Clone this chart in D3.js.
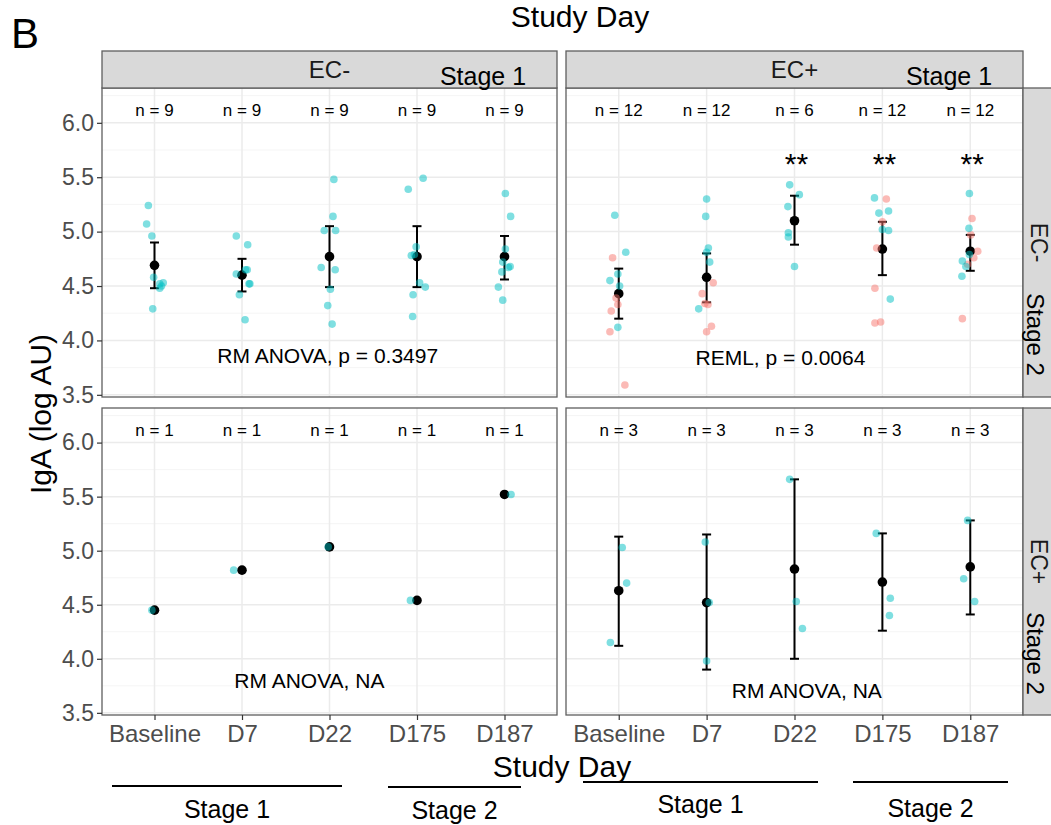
<!DOCTYPE html>
<html>
<head>
<meta charset="utf-8">
<script src="https://cdn.jsdelivr.net/npm/d3@7"></script>
<style>
  body { margin: 0; background: #fff; }
  svg { display: block; }
  text { font-family: "Liberation Sans", Arial, Helvetica, sans-serif; }
</style>
</head>
<body>
<svg id="chart" width="1051" height="825"></svg>
<script>
// ---- categories and axis ticks ----
const categories = ["Baseline", "D7", "D22", "D175", "D187"];
const yTicks = [3.5, 4.0, 4.5, 5.0, 5.5, 6.0];
const yMinorTicks = [3.75, 4.25, 4.75, 5.25, 5.75, 6.25];
const colStrips = ["EC-", "EC+"];
const rowStrips = ["EC-", "EC+"];

// ---- EC- (stage 1) / EC- (stage 2) ----
const negNegA = [
  [5.24, 5.07, 4.96, 4.58, 4.53, 4.52, 4.50, 4.48, 4.29],
  [4.96, 4.88, 4.65, 4.65, 4.61, 4.52, 4.52, 4.42, 4.19],
  [5.48, 5.14, 5.01, 5.01, 4.67, 4.65, 4.47, 4.32, 4.15],
  [5.49, 5.39, 4.86, 4.79, 4.78, 4.53, 4.49, 4.42, 4.22],
  [5.35, 5.14, 4.84, 4.72, 4.68, 4.67, 4.63, 4.49, 4.37]
];
const negNegAJitter = [
  [-0.07, -0.09, -0.03, -0.01, 0.10, 0.06, 0.08, 0.06, -0.02],
  [-0.065, 0.065, 0.06, 0.04, -0.065, 0.08, 0.09, -0.03, 0.035],
  [0.05, 0.04, -0.06, 0.07, -0.095, 0.065, 0.01, -0.02, 0.03],
  [0.07, -0.10, -0.01, -0.03, -0.065, 0.03, 0.095, -0.045, -0.05],
  [0.01, 0.07, 0.01, -0.02, 0.065, 0.045, -0.03, -0.07, -0.02]
];
const negNegMean = [4.69, 4.60, 4.77, 4.77, 4.77];
const negNegLow  = [4.48, 4.45, 4.49, 4.49, 4.56];
const negNegHigh = [4.90, 4.75, 5.05, 5.05, 4.96];
const negNegN = [9, 9, 9, 9, 9];

// ---- EC+ (stage 1) / EC- (stage 2) ----
const posNegA = [
  [5.15, 4.81, 4.61, 4.55, 4.50, 4.12],
  [5.30, 5.14, 4.85, 4.81, 4.72, 4.29],
  [5.43, 5.34, 5.23, 4.99, 4.95, 4.68],
  [5.31, 5.19, 5.17, 5.02, 5.01, 4.38],
  [5.35, 5.03, 4.79, 4.73, 4.68, 4.59]
];
const posNegAJitter = [
  [-0.045, 0.08, -0.01, -0.10, 0.01, -0.01],
  [0, -0.01, 0.02, 0, 0.035, -0.09],
  [-0.055, 0.055, -0.075, -0.07, -0.07, 0],
  [-0.09, 0.07, -0.04, 0, 0.07, 0.09],
  [-0.01, -0.015, -0.01, -0.09, -0.05, -0.095]
];
const posNegB = [
  [4.76, 4.39, 4.33, 4.27, 4.08, 3.59],
  [4.53, 4.43, 4.34, 4.33, 4.13, 4.08],
  [],
  [5.30, 5.09, 4.85, 4.48, 4.17, 4.16],
  [5.12, 4.97, 4.82, 4.76, 4.70, 4.20]
];
const posNegBJitter = [
  [-0.07, -0.03, -0.01, -0.085, -0.10, 0.07],
  [0.075, -0.05, -0.02, 0.015, 0.055, 0],
  [],
  [0.045, 0, -0.065, -0.085, -0.02, -0.085],
  [0.02, 0.005, 0.085, 0.04, -0.03, -0.09]
];
const posNegMean = [4.43, 4.58, 5.10, 4.84, 4.82];
const posNegLow  = [4.20, 4.35, 4.88, 4.60, 4.64];
const posNegHigh = [4.66, 4.80, 5.33, 5.09, 4.97];
const posNegN = [12, 12, 6, 12, 12];
const posNegStars = ["", "", "**", "**", "**"];

// ---- EC- (stage 1) / EC+ (stage 2) ----
const negPosA = [[4.45], [4.82], [5.035], [4.54], [5.52]];
const negPosAJitter = [[-0.03], [-0.095], [-0.015], [-0.075], [0.075]];
const negPosMean = [4.45, 4.82, 5.035, 4.54, 5.52];
const negPosN = [1, 1, 1, 1, 1];

// ---- EC+ (stage 1) / EC+ (stage 2) ----
const posPosA = [
  [5.03, 4.70, 4.15],
  [5.08, 4.52, 3.98],
  [5.66, 4.53, 4.28],
  [5.16, 4.56, 4.40],
  [5.28, 4.74, 4.53]
];
const posPosAJitter = [
  [0.04, 0.09, -0.095],
  [-0.015, 0.03, 0],
  [-0.055, 0.02, 0.09],
  [-0.07, 0.09, 0.08],
  [-0.03, -0.075, 0.05]
];
const posPosMean = [4.63, 4.52, 4.83, 4.71, 4.85];
const posPosLow  = [4.12, 3.90, 4.00, 4.26, 4.41];
const posPosHigh = [5.13, 5.15, 5.66, 5.16, 5.28];
const posPosN = [3, 3, 3, 3, 3];

// statistical test annotations: [text, x position in category units, y value]
const statLabels = [
  ["RM ANOVA, p = 0.3497", 1.98, 3.79],
  ["REML, p = 0.0064", 1.84, 3.775],
  ["RM ANOVA, NA", 1.77, 3.727],
  ["RM ANOVA, NA", 2.14, 3.635]
];

// ---- layout ----
const svg = d3.select("#chart");
const colX = [[102, 557], [566, 1023]];
const rowY = [[88, 397], [408, 715]];
const yDomain = [3.48, 6.32];
const colA = "#00BFC4", colB = "#F8766D";
const gridMajor = "#EBEBEB", gridMinor = "#F3F3F3";
const borderCol = "#5f5f5f";

function pack(values, jitter) {
  const out = [];
  values.forEach((vals, i) => vals.forEach((v, k) => out.push({ day: categories[i], value: v, jitter: jitter[i][k] })));
  return out;
}

const panels = [
  { col: 0, row: 0, a: pack(negNegA, negNegAJitter), b: [], mean: negNegMean, low: negNegLow, high: negNegHigh, n: negNegN, stars: null, stat: statLabels[0] },
  { col: 1, row: 0, a: pack(posNegA, posNegAJitter), b: pack(posNegB, posNegBJitter), mean: posNegMean, low: posNegLow, high: posNegHigh, n: posNegN, stars: posNegStars, stat: statLabels[1] },
  { col: 0, row: 1, a: pack(negPosA, negPosAJitter), b: [], mean: negPosMean, low: null, high: null, n: negPosN, stars: null, stat: statLabels[2] },
  { col: 1, row: 1, a: pack(posPosA, posPosAJitter), b: [], mean: posPosMean, low: posPosLow, high: posPosHigh, n: posPosN, stars: null, stat: statLabels[3] }
];

panels.forEach(p => {
  const [x0, x1] = colX[p.col];
  const [y0, y1] = rowY[p.row];
  const x = d3.scalePoint().domain(categories).range([x0, x1]).padding(0.6);
  const y = d3.scaleLinear().domain(yDomain).range([y1, y0]);
  const step = x.step();
  const g = svg.append("g");

  g.append("rect").attr("x", x0).attr("y", y0).attr("width", x1 - x0).attr("height", y1 - y0).attr("fill", "#fff");

  // grid
  g.selectAll(".gmin").data(yMinorTicks).join("line")
    .attr("x1", x0).attr("x2", x1).attr("y1", d => y(d)).attr("y2", d => y(d))
    .attr("stroke", gridMinor).attr("stroke-width", 0.8);
  g.selectAll(".gmaj").data(yTicks).join("line")
    .attr("x1", x0).attr("x2", x1).attr("y1", d => y(d)).attr("y2", d => y(d))
    .attr("stroke", gridMajor).attr("stroke-width", 1.5);
  g.selectAll(".gx").data(categories).join("line")
    .attr("x1", d => x(d)).attr("x2", d => x(d)).attr("y1", y0).attr("y2", y1)
    .attr("stroke", gridMajor).attr("stroke-width", 1.5);

  // error bars
  if (p.low) {
    categories.forEach((c, i) => {
      const cx = x(c);
      g.append("line").attr("x1", cx).attr("x2", cx).attr("y1", y(p.low[i])).attr("y2", y(p.high[i]))
        .attr("stroke", "#000").attr("stroke-width", 2);
      [p.low[i], p.high[i]].forEach(v => {
        g.append("line").attr("x1", cx - 4.5).attr("x2", cx + 4.5).attr("y1", y(v)).attr("y2", y(v))
          .attr("stroke", "#000").attr("stroke-width", 2);
      });
    });
  }

  // group means
  g.selectAll(".mean").data(p.mean).join("circle")
    .attr("cx", (d, i) => x(categories[i])).attr("cy", d => y(d)).attr("r", 4.8).attr("fill", "#000");

  // individual observations
  g.selectAll(".ptb").data(p.b).join("circle")
    .attr("cx", d => x(d.day) + d.jitter * step).attr("cy", d => y(d.value)).attr("r", 3.8)
    .attr("fill", colB).attr("fill-opacity", 0.5);
  g.selectAll(".pta").data(p.a).join("circle")
    .attr("cx", d => x(d.day) + d.jitter * step).attr("cy", d => y(d.value)).attr("r", 3.8)
    .attr("fill", colA).attr("fill-opacity", 0.5);

  // sample sizes
  g.selectAll(".nlab").data(p.n).join("text")
    .attr("x", (d, i) => x(categories[i])).attr("y", y(6.06))
    .attr("text-anchor", "middle").attr("font-size", 17).attr("fill", "#000")
    .text(d => "n = " + d);

  // significance stars
  if (p.stars) {
    g.selectAll(".star").data(p.stars).join("text")
      .attr("x", (d, i) => x(categories[i]) + 2).attr("y", y(5.53))
      .attr("text-anchor", "middle").attr("font-size", 30).attr("fill", "#000")
      .text(d => d);
  }

  // test annotation
  g.append("text").attr("x", x(categories[0]) + p.stat[1] * step).attr("y", y(p.stat[2]))
    .attr("text-anchor", "middle").attr("font-size", 21).attr("fill", "#000").text(p.stat[0]);

  // border
  g.append("rect").attr("x", x0).attr("y", y0).attr("width", x1 - x0).attr("height", y1 - y0)
    .attr("fill", "none").attr("stroke", borderCol).attr("stroke-width", 1.3);

  // y axis on left column
  if (p.col === 0) {
    const ax = g.append("g").attr("transform", `translate(${x0},0)`)
      .call(d3.axisLeft(y).tickValues(yTicks).tickFormat(d3.format(".1f")).tickSize(5).tickPadding(3));
    ax.select(".domain").remove();
    ax.selectAll(".tick line").attr("stroke", "#333").attr("stroke-width", 1.2);
    ax.selectAll(".tick text").attr("font-size", 23).attr("fill", "#4D4D4D")
      .attr("font-family", "'Liberation Sans', Arial, sans-serif");
  }
  // x axis on bottom row
  if (p.row === 1) {
    const ax = g.append("g").attr("transform", `translate(0,${y1})`)
      .call(d3.axisBottom(x).tickSize(5).tickPadding(5));
    ax.select(".domain").remove();
    ax.selectAll(".tick line").attr("stroke", "#333").attr("stroke-width", 1.2);
    ax.selectAll(".tick text").attr("font-size", 24).attr("fill", "#4D4D4D")
      .attr("font-family", "'Liberation Sans', Arial, sans-serif");
  }
});

// ---- strips ----
colStrips.forEach((lab, i) => {
  const [x0, x1] = colX[i];
  svg.append("rect").attr("x", x0).attr("y", 51).attr("width", x1 - x0).attr("height", 37)
    .attr("fill", "#D9D9D9").attr("stroke", borderCol).attr("stroke-width", 1.3);
  svg.append("text").attr("x", (x0 + x1) / 2).attr("y", 78).attr("text-anchor", "middle")
    .attr("font-size", 24).attr("fill", "#1A1A1A").text(lab);
  svg.append("text").attr("x", x1 - 74).attr("y", 85).attr("text-anchor", "middle")
    .attr("font-size", 25).attr("fill", "#000").text("Stage 1");
});
rowStrips.forEach((lab, i) => {
  const [y0, y1] = rowY[i];
  svg.append("rect").attr("x", 1023).attr("y", y0).attr("width", 37).attr("height", y1 - y0)
    .attr("fill", "#D9D9D9").attr("stroke", borderCol).attr("stroke-width", 1.3);
  const cy = (y0 + y1) / 2;
  svg.append("text").attr("transform", `translate(1031,${cy}) rotate(90)`).attr("text-anchor", "middle")
    .attr("font-size", 23).attr("fill", "#1A1A1A").text(lab);
  svg.append("text").attr("transform", `translate(1027,${cy + 92}) rotate(90)`).attr("text-anchor", "middle")
    .attr("font-size", 24).attr("fill", "#000").text("Stage 2");
});

// ---- titles ----
svg.append("text").attr("x", 11).attr("y", 48).attr("font-size", 42).attr("fill", "#000").text("B");
svg.append("text").attr("x", 580).attr("y", 27).attr("text-anchor", "middle").attr("font-size", 30).attr("fill", "#000").text("Study Day");
svg.append("text").attr("x", 562).attr("y", 777).attr("text-anchor", "middle").attr("font-size", 30).attr("fill", "#000").text("Study Day");
svg.append("text").attr("transform", "translate(51,414) rotate(-90)").attr("text-anchor", "middle")
  .attr("font-size", 30).attr("fill", "#000").text("IgA (log AU)");

// ---- stage brackets under the x axis ----
const stageMarks = [
  ["Stage 1", 112, 342, 786, 818],
  ["Stage 2", 388, 521, 787, 819],
  ["Stage 1", 583, 818, 782, 813],
  ["Stage 2", 853, 1008, 782, 817]
];
stageMarks.forEach(([lab, a, b, ly, ty]) => {
  svg.append("line").attr("x1", a).attr("x2", b).attr("y1", ly).attr("y2", ly).attr("stroke", "#000").attr("stroke-width", 2);
  svg.append("text").attr("x", (a + b) / 2).attr("y", ty).attr("text-anchor", "middle").attr("font-size", 25).attr("fill", "#000").text(lab);
});
</script>
</body>
</html>
